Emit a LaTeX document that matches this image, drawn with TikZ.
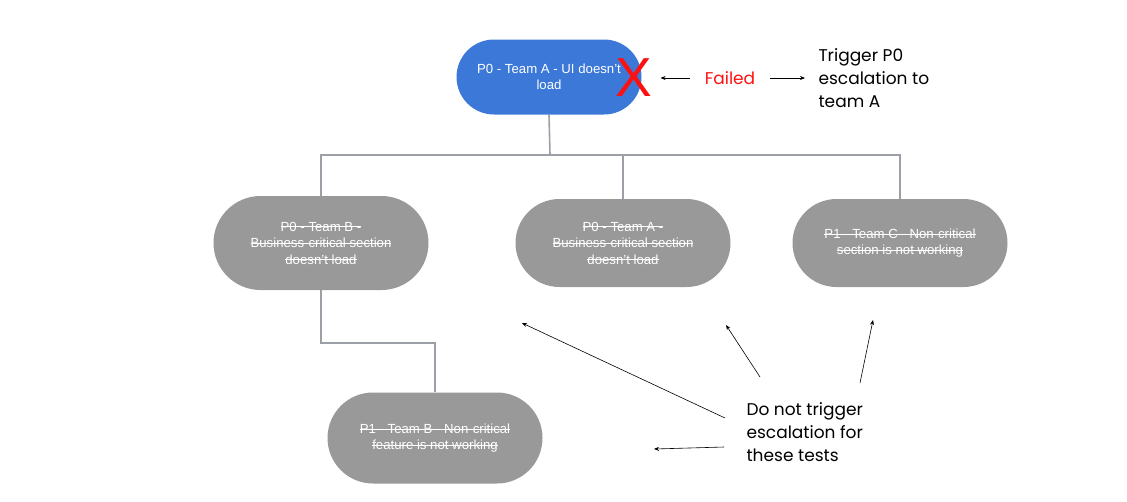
\documentclass[tikz,border=0pt]{standalone}
\usepackage{fontspec}
\usetikzlibrary{shapes.misc,arrows.meta}
\setmainfont{Poppins}
\newfontfamily\nodefont{Liberation Sans}
\definecolor{testblue}{HTML}{3C78D8}
\definecolor{testgrey}{HTML}{999999}
\definecolor{wiregrey}{HTML}{9AA0A6}
\definecolor{failred}{HTML}{FF1010}
\newsavebox\strikebox
\newcommand\strikeout[1]{\sbox\strikebox{#1}\rlap{\usebox\strikebox}\rule[0.3em]{\wd\strikebox}{0.6pt}}

\begin{document}
\begin{tikzpicture}[x=1pt, y=-1pt,
  test/.style = {shape=rounded rectangle, fill=testgrey, text=white, align=center, inner sep=0pt,
    font=\nodefont\fontsize{13.2}{16.5}\selectfont, minimum width=215pt, minimum height=88pt},
  wire/.style = {draw=wiregrey, line width=1.6pt},
  note/.style = {align=left, anchor=west, font=\fontsize{17}{23}\selectfont},
  arr/.style = {-{Stealth[length=5pt,width=4pt]}, line width=0.6pt}]
\useasboundingbox (0,0) rectangle (1127,501);

\node[test, fill=testblue, minimum width=185pt, minimum height=75pt] (top) at (549,77) {P0 - Team A - UI doesn’t\\load};
\node[inner sep=0pt, text=failred, font=\nodefont\fontsize{55}{55}\selectfont] (cross) at (634,78) {X};
\node[text=failred, font=\fontsize{17}{23}\selectfont] (failed) at (730,78) {Failed};
\node[note] (trigger) at (815,78) {Trigger P0\\escalation to\\team A};

\node[test, minimum height=94pt] (teamb) at (321,243) {\strikeout{P0 - Team B -}\\\strikeout{Business-critical section}\\\strikeout{doesn’t load}};
\node[test] (teama) at (623,243) {\strikeout{P0 - Team A -}\\\strikeout{Business-critical section}\\\strikeout{doesn’t load}};
\node[test] (teamc) at (900,243) {\strikeout{P1 - Team C - Non-critical}\\\strikeout{section is not working}};
\node[test, minimum height=91pt] (featb) at (435,438) {\strikeout{P1 - Team B - Non-critical}\\\strikeout{feature is not working}};

\node[note] (skip) at (743,432) {Do not trigger\\escalation for\\these tests};

% tree lines
\coordinate (split) at (550,155);
\coordinate (elbow) at (435,343);
\draw[wire] (top.south) -- (split);
\draw[wire] (split) -| (teamb.north);
\draw[wire] (split) -| (teama.north);
\draw[wire] (split) -| (teamc.north);
\draw[wire] (teamb.south) |- (elbow) -- (featb.north);

% arrows
\draw[arr, shorten <=11pt, shorten >=8pt] (failed.west) -- (cross.east);
\draw[arr, shorten <=11pt, shorten >=10pt] (failed.east) -- (trigger.west);

\coordinate (skipb) at (522,323);
\coordinate (skipa) at (726,325);
\coordinate (skipc) at (873,320);
\coordinate (skipf) at (654,449);
\draw[arr] ([shift={(-18,-14)}]skip.west) -- (skipb);
\draw[arr] ([shift={(17,-55)}]skip.west) -- (skipa);
\draw[arr] ([shift={(117,-49)}]skip.west) -- (skipc);
\draw[arr] ([shift={(-19,15)}]skip.west) -- (skipf);
\end{tikzpicture}
\end{document}
